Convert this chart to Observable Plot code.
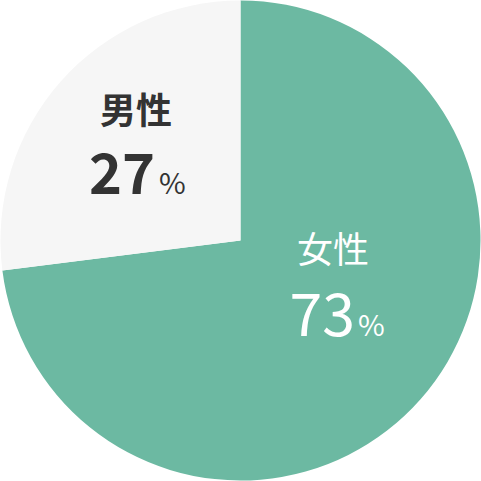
<!DOCTYPE html>
<html>
<head>
<meta charset="utf-8">
<script src="https://cdn.jsdelivr.net/npm/d3@7"></script>
<script src="https://cdn.jsdelivr.net/npm/@observablehq/plot@0.6"></script>
<style>
  html, body { margin: 0; padding: 0; background: #ffffff; }
  svg { display: block; }
</style>
</head>
<body>
<div id="chart"></div>
<script>
const categories = ["女性", "男性"];
const values = [73, 27];
const colors = ["#6cb9a2", "#f6f6f6"];
const valueLabels = ["73", "27"];

const data = categories.map((c, i) => ({category: c, value: values[i], color: colors[i], label: valueLabels[i]}));

const W = 481, H = 481;

function pieMark(index, scales, vals, dims) {
  const cx = dims.width / 2, cy = dims.height / 2;
  const r = Math.min(dims.width, dims.height) / 2 - 0.5;
  const arcs = d3.pie().sort(null).value(d => d.value)(data);
  const arc = d3.arc().innerRadius(0).outerRadius(r);
  const g = d3.create("svg:g").attr("transform", `translate(${cx},${cy})`);
  g.selectAll("path").data(arcs).join("path")
    .attr("d", arc)
    .attr("fill", d => d.data.color);
  return g.node();
}

const font = "'Noto Sans CJK JP', 'Noto Sans', sans-serif";
const female = [data[0]];
const male = [data[1]];

const chart = Plot.plot({
  width: W,
  height: H,
  margin: 0,
  style: {background: "transparent", fontFamily: font},
  marks: [
    pieMark,
    // male
    Plot.text(male, {frameAnchor: "middle", text: d => d.category, dx: -105, dy: -117.5, lineAnchor: "bottom", textAnchor: "middle", fontSize: 36, fontWeight: 700, fill: "#333333"}),
    Plot.text(male, {frameAnchor: "middle", text: d => d.label, dx: -86, dy: -47.5, lineAnchor: "bottom", textAnchor: "end", fontSize: 56, fontWeight: 700, fill: "#333333"}),
    Plot.text(male, {frameAnchor: "middle", text: () => "%", dx: -82, dy: -47.5, lineAnchor: "bottom", textAnchor: "start", fontSize: 29, fontWeight: 400, fill: "#333333"}),
    // female
    Plot.text(female, {frameAnchor: "middle", text: d => d.category, dx: 92, dy: 22, lineAnchor: "bottom", textAnchor: "middle", fontSize: 36, fontWeight: 400, fill: "#ffffff"}),
    Plot.text(female, {frameAnchor: "middle", text: d => d.label, dx: 114, dy: 94.5, lineAnchor: "bottom", textAnchor: "end", fontSize: 59, fontWeight: 400, fill: "#ffffff"}),
    Plot.text(female, {frameAnchor: "middle", text: () => "%", dx: 117, dy: 94.5, lineAnchor: "bottom", textAnchor: "start", fontSize: 29, fontWeight: 400, fill: "#ffffff"})
  ]
});
document.getElementById("chart").appendChild(chart);
</script>
</body>
</html>
